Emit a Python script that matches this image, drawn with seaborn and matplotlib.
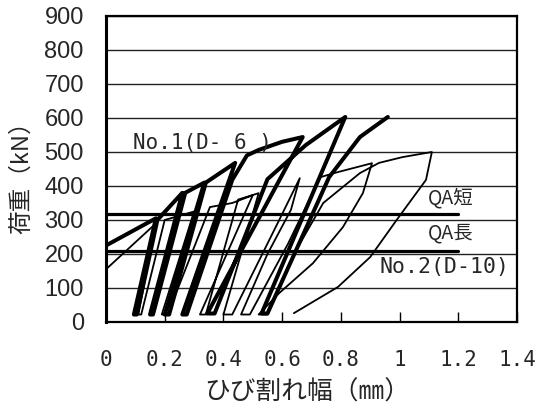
import numpy as np
import pandas as pd
import matplotlib
matplotlib.use("Agg")
import matplotlib.pyplot as plt
import seaborn as sns

# Load vs. crack width, specimen No.1 (D-6): cyclic loading branches
no1_width = [0.00, 0.00, 0.17, 0.095, 0.105, 0.175, 0.26, 0.15, 0.16, 0.27, 0.335,
             0.20, 0.215, 0.34, 0.44, 0.26, 0.275, 0.43, 0.48, 0.52, 0.60, 0.67,
             0.345, 0.37, 0.55, 0.68, 0.815, 0.53, 0.55, 0.76, 0.865, 0.96]
no1_load = [0, 225, 305, 22, 22, 300, 380, 22, 22, 380, 410,
            22, 22, 410, 468, 22, 22, 418, 490, 506, 530, 544,
            25, 25, 420, 520, 603, 25, 25, 426, 544, 603]

# Load vs. crack width, specimen No.2 (D-10)
no2_width = [0.00, 0.17, 0.11, 0.12, 0.20, 0.30, 0.19, 0.21, 0.354, 0.43, 0.50,
             0.32, 0.34, 0.45, 0.52, 0.40, 0.43, 0.59, 0.66, 0.63, 0.55, 0.46,
             0.49, 0.62, 0.73, 0.79, 0.906, 0.875, 0.807, 0.705, 0.59, 0.52,
             0.55, 0.64, 0.74, 0.865, 0.93, 1.01, 1.11, 1.09, 0.99, 0.90, 0.79, 0.64]
no2_load = [155, 290, 22, 22, 300, 325, 22, 22, 338, 350, 373,
            22, 22, 360, 379, 22, 22, 300, 423, 330, 200, 22,
            22, 230, 426, 441, 467, 379, 279, 173, 85, 22,
            22, 200, 350, 438, 468, 485, 500, 418, 300, 191, 103, 26]

# Allowable shear forces (short-term / long-term)
qa_short = 318
qa_long = 210
qa_span = [0.0, 1.2]

x_ticks = [0, 0.2, 0.4, 0.6, 0.8, 1.0, 1.2, 1.4]
x_tick_labels = ["0", "0.2", "0.4", "0.6", "0.8", "1", "1.2", "1.4"]
y_ticks = list(range(0, 1000, 100))

sns.set_theme(style="white")
plt.rcParams["font.family"] = ["Liberation Sans", "Noto Sans CJK JP"]

fig = plt.figure(figsize=(5.37, 4.12), dpi=100)
ax = fig.add_axes([106 / 537, 1 - 322 / 412, 411 / 537, 306 / 412])

for yv in y_ticks[1:]:
    ax.axhline(yv, color="#222222", lw=1.0, zorder=1)

df1 = pd.DataFrame({"width": no1_width, "load": no1_load})
df2 = pd.DataFrame({"width": no2_width, "load": no2_load})
sns.lineplot(data=df2, x="width", y="load", sort=False, estimator=None,
             color="black", lw=1.3, ax=ax, zorder=3)
sns.lineplot(data=df1, x="width", y="load", sort=False, estimator=None,
             color="black", lw=2.9, ax=ax, zorder=4,
             solid_joinstyle="round", solid_capstyle="round")
sns.lineplot(x=qa_span, y=[qa_short, qa_short], color="black", lw=2.3, ax=ax, zorder=2)
sns.lineplot(x=qa_span, y=[qa_long, qa_long], color="black", lw=2.3, ax=ax, zorder=2)

ax.set_xlim(0, 1.4)
ax.set_ylim(0, 900)
ax.set_xticks(x_ticks)
ax.set_xticklabels(x_tick_labels, family="DejaVu Sans Mono", fontsize=15)
ax.set_yticks(y_ticks)
ax.tick_params(axis="y", length=0, pad=16, labelsize=17)
ax.tick_params(axis="x", direction="in", length=7, width=1.0, color="black",
               pad=20, top=False, bottom=True)

for side in ["left", "bottom", "top", "right"]:
    ax.spines[side].set_color("black")
    ax.spines[side].set_linewidth(1.6)
ax.spines["left"].set_linewidth(2.2)

mono_cjk = ["DejaVu Sans Mono", "Noto Sans CJK JP"]
ax.text(0.092, 526, "No.1(D- 6 )", family=mono_cjk, fontsize=15,
        ha="left", va="center", zorder=5)
ax.text(0.933, 162, "No.2(D-10)", family=mono_cjk, fontsize=15.5,
        ha="left", va="center", zorder=5)
ax.text(1.097, 365, "QA短", family=["Liberation Sans Narrow", "Noto Sans CJK JP"],
        fontsize=14, ha="left", va="center", zorder=5)
ax.text(1.097, 262, "QA長", family=["Liberation Sans Narrow", "Noto Sans CJK JP"],
        fontsize=14, ha="left", va="center", zorder=5)

ax.set_xlabel("")
ax.set_ylabel("")
fig.text(22 / 537, 1 - 172 / 412, "荷重（kN）", rotation=90, ha="center", va="center",
         family=["Noto Sans CJK JP"], fontsize=17)
fig.text(307 / 537, 1 - 393 / 412, "ひび割れ幅（㎜）", ha="center", va="center",
         family=["Noto Sans CJK JP", "DejaVu Sans"], fontsize=18.5)

fig.savefig("out.png", dpi=100)
